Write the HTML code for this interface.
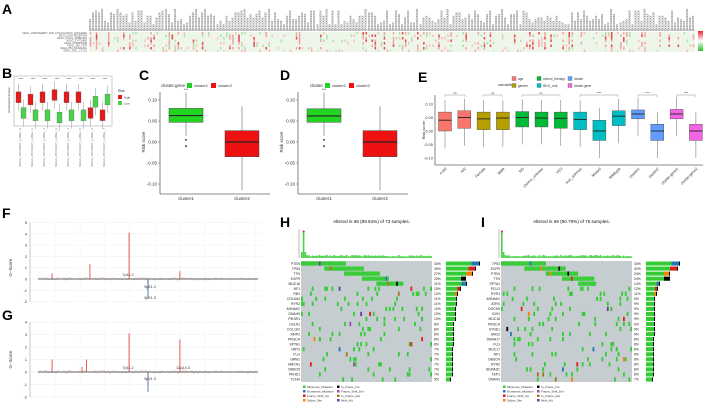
<!DOCTYPE html>
<html><head><meta charset="utf-8">
<style>
html,body{margin:0;padding:0;background:#fff;}
svg{display:block;font-family:"Liberation Sans",sans-serif;}
</style></head>
<body>
<svg id="fig" width="708" height="408" viewBox="0 0 708 408">
<g font-size="14" font-weight="bold" fill="#000">
<text x="2" y="14">A</text>
<text x="2" y="78">B</text>
<text x="139" y="80">C</text>
<text x="280" y="80">D</text>
<text x="418" y="82">E</text>
<text x="2" y="218">F</text>
<text x="2" y="320">G</text>
<text x="280" y="227">H</text>
<text x="481" y="227">I</text>
</g>
</svg>
<script>
// ---------- data ----------
const aRows = ['KEGG_COMPLEMENT_AND_COAGULATION_CASCADES','KEGG_ECM_RECEPTOR','KEGG_FOCAL_ADHESION','KEGG_CYTOKINE','KEGG_CHEMOKINE','KEGG_JAK_STAT','KEGG_P53_SIGNALING','KEGG_CELL_CYCLE'];
const aColumnCount = 200;
const bHigh = [0.55,0.5,0.55,0.6,0.55,0.55,0.2,0.15];
const bLow = [0.2,0.15,0.15,0.1,0.15,0.15,0.45,0.5];
const cCategories = ['cluster1','cluster2'];
const cQ1 = [0.047,-0.035]; const cMed = [0.063,0.0]; const cQ3 = [0.08,0.027];
const cLo = [0.015,-0.115]; const cHi = [0.118,0.085];
const dQ1 = [0.047,-0.035]; const dMed = [0.062,0.0]; const dQ3 = [0.079,0.027];
const dLo = [0.015,-0.115]; const dHi = [0.118,0.085];
const eCategories = ['<=60','>60','Female','Male','NO','chemo_unknow','YES','mut_unknow','Mutant','Wildtype','cluster1','cluster2','cluster.gene1','cluster.gene2'];
const eQ1 = [0.0,0.01,0.005,0.005,0.015,0.015,0.01,0.005,-0.035,0.02,0.045,-0.035,0.045,-0.035];
const eMed = [0.04,0.05,0.045,0.048,0.05,0.048,0.047,0.043,0.0,0.055,0.063,0.0,0.063,0.0];
const eQ3 = [0.07,0.075,0.07,0.07,0.072,0.07,0.07,0.07,0.04,0.075,0.078,0.025,0.08,0.025];
const eColors = ['#F8766D','#F8766D','#B79F00','#B79F00','#00BA38','#00BA38','#00BA38','#00BFC4','#00BFC4','#00BFC4','#619CFF','#619CFF','#F564E3','#F564E3'];
const fTicks = [5,4,3,2,1,0,-1,-2];
const fPeakPos = [0.064,0.236,0.414,0.5,0.5,0.645];
const fPeakVal = [0.5,1.3,4.1,-1.0,-1.7,0.7];
const gTicks = [4,3,2,1,0,-1,-2];
const gPeakPos = [0.064,0.22,0.414,0.5,0.645,0.2];
const gPeakVal = [1.0,1.0,3.1,-1.6,2.6,0.4];
const hGenes = ['PTEN','TP53','TTN','EGFR','MUC16','NF1','RB1','COL6A3','RYR2','AHNAK2','DNAH5','PIK3R1','CALN1','COL1A2','XIRP2','PIK3CA','SPTA1','HRT2','FLG','GRM1','HMCN1','OBSCN','PKHD1','TCHH'];
const hPct = [34,30,27,20,21,15,12,11,11,10,10,10,8,8,8,8,8,7,7,7,7,7,7,5];
const iGenes = ['TP53','EGFR','PTEN','TTN','SPTA1','PCLO','RYR1','AHNAK2','ATRX','DOCK5','IDH1','MUC16','PIK3CA','SYNE1','ANO2','DNAH17','FLG','MUC17','NF1','OBSCN','RYR2','SEMA3C','TEP1','DNAH2'];
const iPct = [34,32,24,24,14,12,11,9,9,9,9,9,9,9,9,8,8,8,8,8,8,8,8,7];

const NS='http://www.w3.org/2000/svg';
const svg=document.getElementById('fig');
function mk(tag,attrs,parent){const e=document.createElementNS(NS,tag);for(const k in attrs)e.setAttribute(k,attrs[k]);(parent||svg).appendChild(e);return e;}
function tx(x,y,s,size,attrs,parent){const e=mk('text',Object.assign({x:x,y:y,'font-size':size,fill:'#333'},attrs||{}),parent);e.textContent=s;return e;}
function hash(a,b){let h=(a*374761393+b*668265263)^0x5bd1e995;h=(h^(h>>>13))*1274126177;return ((h^(h>>>16))>>>0)/4294967296;}

// ---------- A heatmap ----------
const gA=mk('g',{});


const aTop=32,aH=20;
mk('rect',{x:89,y:aTop,width:606,height:aH,fill:'#eef6ea'},gA);
const cw=606/aColumnCount, rh=aH/aRows.length;
for(let c=0;c<aColumnCount;c++){
  const hot=hash(c,99)>0.75;
  for(let r=0;r<aRows.length;r++){
    const v=hash(c,r);
    let col=null;
    if(r===aRows.length-1){ if(v>0.85) col='#f5b5b5'; else if(v<0.1) col='#c5ecc5'; }
    else if(hot&&v>0.4) col=v>0.8?'#e84a4a':'#f4a3a3';
    else if(v>0.95) col='#f6c0c0';
    else if(v<0.05) col='#a8e6a8';
    if(col){const e=mk('rect',{x:89+c*cw+cw*0.25,y:aTop+r*rh,width:cw*0.5,height:rh,fill:col},gA);}
  }
  const ln=3+Math.floor(hash(c,7)*10);
  const lab=tx(89+c*cw+2,31,'g'+'x'.repeat(ln),3.4,{transform:`rotate(-90 ${89+c*cw+2} 31)`,fill:'#555'},gA);
  
  
}
aRows.forEach((r,i)=>{const t=tx(87,aTop+i*rh+2.2,r,2.4,{'text-anchor':'end',fill:'#555'},gA);});
const defs=mk('defs',{});
const lg=mk('linearGradient',{id:'hg',x1:0,y1:0,x2:0,y2:1},defs);
mk('stop',{offset:'0',  'stop-color':'#e3262a'},lg);mk('stop',{offset:'0.5','stop-color':'#ffffff'},lg);mk('stop',{offset:'1','stop-color':'#22c322'},lg);
const lgd=mk('rect',{x:698,y:31,width:5,height:20,fill:'url(#hg)'});



// ---------- B ----------
const gB=mk('g',{});


mk('rect',{x:14,y:76,width:98,height:50,fill:'#fff',stroke:'#999','stroke-width':0.5},gB);
const bY=v=>122-v*45;
for(let i=0;i<bHigh.length;i++){
  const cx=21+i*12;
  [[bHigh[i],'#e41a1c',-2.5],[bLow[i],'#4ad04a',2.5]].forEach(([m,col,off])=>{
    const x=cx+off;
    mk('line',{x1:x,x2:x,y1:bY(m+0.3),y2:bY(m-0.3),stroke:'#777','stroke-width':0.4},gB);
    const b=mk('rect',{x:x-2.5,y:bY(m+0.12),width:5,height:bY(m-0.12)-bY(m+0.12),fill:col,stroke:'#555','stroke-width':0.3},gB);
    
    
  });
  tx(cx,80,'****',3,{'text-anchor':'middle'},gB);
  const lab=tx(cx,128,'KEGG_PATHWAY_LABEL_'+i,3,{transform:`rotate(-90 ${cx} 128)`,'text-anchor':'end',fill:'#777'},gB);
  
  
}
tx(10,100,'Enrichment Scores',3,{transform:'rotate(-90 10 100)','text-anchor':'middle'},gB);
tx(118,92,'Risk',3.5,{},gB);
mk('rect',{x:118,y:95,width:4,height:4,fill:'#e41a1c'},gB);tx(124,98.5,'High',3,{},gB);
mk('rect',{x:118,y:101,width:4,height:4,fill:'#4ad04a'},gB);tx(124,104.5,'Low',3,{},gB);

// ---------- C & D ----------
function clusterPanel(x0,title,q1,med,q3,lo,hi,name){
  const g=mk('g',{});
  
  
  const Y=v=>142-v*420;
  const left=x0, right=x0+110;
  mk('line',{x1:left,x2:left,y1:92,y2:194,stroke:'#666','stroke-width':0.8},g);
  mk('line',{x1:left,x2:right,y1:194,y2:194,stroke:'#666','stroke-width':0.8},g);
  [0.10,0.05,0.00,-0.05,-0.10].forEach(t=>{
    mk('line',{x1:left-2,x2:left,y1:Y(t),y2:Y(t),stroke:'#666','stroke-width':0.5},g);
    tx(left-3,Y(t)+1.5,t.toFixed(2),4.5,{'text-anchor':'end'},g);
  });
  tx(left-15,142,'Risk score',4.5,{transform:`rotate(-90 ${left-15} 142)`,'text-anchor':'middle'},g);
  const cols=['#22d322','#ee1111'];
  cCategories.forEach((c,i)=>{
    const cx=left+26+i*56;
    mk('line',{x1:cx,x2:cx,y1:Y(hi[i]),y2:Y(lo[i]),stroke:'#666','stroke-width':0.6},g);
    const b=mk('rect',{x:cx-17,y:Y(q3[i]),width:34,height:Y(q1[i])-Y(q3[i]),fill:cols[i],stroke:'#444','stroke-width':0.5},g);
    
    
    mk('line',{x1:cx-17,x2:cx+17,y1:Y(med[i]),y2:Y(med[i]),stroke:'#222','stroke-width':1.2},g);
    tx(cx,200,c,4.5,{'text-anchor':'middle'},g);
  });
  mk('circle',{cx:left+26,cy:Y(0.005),r:0.9,fill:'#222'},g);
  mk('circle',{cx:left+26,cy:Y(-0.01),r:0.9,fill:'#222'},g);
  tx(left+26,Y(0.122),'***',4,{'text-anchor':'middle'},g);
  tx(left+25,87,title,4.5,{'text-anchor':'end'},g);
  mk('rect',{x:left+27,y:83,width:5,height:5,fill:cols[0]},g);tx(left+34,87,'cluster1',4,{},g);
  mk('rect',{x:left+51,y:83,width:5,height:5,fill:cols[1]},g);tx(left+58,87,'cluster2',4,{},g);
}
clusterPanel(160,'cluster.gene',cQ1,cMed,cQ3,cLo,cHi,'cluster-gene-boxplot');
clusterPanel(298,'cluster',dQ1,dMed,dQ3,dLo,dHi,'cluster-boxplot');

// ---------- E ----------
const gE=mk('g',{});


const eY=v=>131-v*270;
mk('line',{x1:435,x2:435,y1:95,y2:165,stroke:'#666','stroke-width':0.8},gE);
mk('line',{x1:435,x2:703,y1:165,y2:165,stroke:'#666','stroke-width':0.8},gE);
[0.10,0.05,0.00,-0.05,-0.10].forEach(t=>tx(433,eY(t)+1.5,t.toFixed(2),4,{'text-anchor':'end'},gE));
tx(425,130,'Risk score',4,{transform:'rotate(-90 425 130)','text-anchor':'middle'},gE);
eCategories.forEach((c,i)=>{
  const cx=445+i*19.3;
  mk('line',{x1:cx,x2:cx,y1:eY(eQ3[i]+0.045),y2:eY(Math.max(eQ1[i]-0.065,-0.11)),stroke:'#666','stroke-width':0.5},gE);
  const b=mk('rect',{x:cx-6.5,y:eY(eQ3[i]),width:13,height:eY(eQ1[i])-eY(eQ3[i]),fill:eColors[i],stroke:'#444','stroke-width':0.4},gE);
  
  
  mk('line',{x1:cx-6.5,x2:cx+6.5,y1:eY(eMed[i]),y2:eY(eMed[i]),stroke:'#222','stroke-width':0.9},gE);
  const l=tx(cx+2,169,c,3.8,{transform:`rotate(-45 ${cx+2} 169)`,'text-anchor':'end'},gE);
  
  
});
[[445,465,'ns'],[483,502,'ns'],[522,560,'ns'],[580,618,'****'],[638,657,'****'],[677,695,'****']].forEach(([a,b,s])=>{
  mk('path',{d:`M${a} 97 V95 H${b} V97`,fill:'none',stroke:'#777','stroke-width':0.4},gE);
  tx((a+b)/2,94,s,3,{'text-anchor':'middle'},gE);
});
tx(498,86,'variable',4,{},gE);
const eLeg=[['age','#F8766D',512,80],['gender','#B79F00',512,87],['chemo_therapy','#00BA38',537,80],['IDH1_mut','#00BFC4',537,87],['cluster','#619CFF',568,80],['cluster.gene','#F564E3',568,87]];
eLeg.forEach(([n,c,x,y])=>{mk('rect',{x:x,y:y-3.5,width:4,height:4,fill:c,stroke:'#555','stroke-width':0.3},gE);tx(x+6,y,n,3.2,{},gE);});

// ---------- F & G ----------
function gistic(top,ticks,unit,pos,val,name,labels){
  const g=mk('g',{});
  
  
  const zero=top+ticks[0]*unit;
  const Y=v=>zero-v*unit;
  const x0=38,x1=258;
  for(let k=0;k<10;k++) mk('line',{x1:30+k*25,x2:30+k*25,y1:Y(ticks[0]),y2:Y(ticks[ticks.length-1]),stroke:'#f0f0f0','stroke-width':0.5},g);
  ticks.forEach(t=>{mk('line',{x1:30,x2:262,y1:Y(t),y2:Y(t),stroke:'#eee','stroke-width':0.5},g);tx(27,Y(t)+1.5,String(t),4,{'text-anchor':'end'},g);});
  mk('line',{x1:30,x2:30,y1:Y(ticks[0]),y2:Y(ticks[ticks.length-1]),stroke:'#999','stroke-width':0.5},g);
  tx(12,Y(1),'G−Score',4.5,{transform:`rotate(-90 12 ${Y(1)})`,'text-anchor':'middle'},g);
  for(let k=0;k<110;k++){const x=x0+k*2;const h=(hash(k,name.length)-0.45)*0.35;mk('line',{x1:x,x2:x,y1:zero,y2:Y(h),stroke:h>0?'#e88':'#6688bb','stroke-width':0.5},g);}
  mk('line',{x1:x0,x2:x1,y1:zero,y2:zero,stroke:'#333','stroke-width':0.8},g);
  pos.forEach((p,i)=>{
    const x=x0+p*(x1-x0);
    const l=mk('line',{x1:x,x2:x,y1:zero,y2:Y(val[i]),stroke:val[i]>0?'#e0302a':'#3a5a9a','stroke-width':0.8},g);
    
    
  });
  labels.forEach(([s,x,y])=>tx(x,y,s,3.8,{'text-anchor':'middle'},g));
}
gistic(222.5,fTicks,11.3,fPeakPos,fPeakVal,'amplification-deletion-f',[['7p11.2',128,276],['9p21.2',150,288],['9p21.3',150,299]]);
gistic(322,gTicks,12.5,gPeakPos,gPeakVal,'amplification-deletion-g',[['7p11.2',128,369],['12q14.3',183,369],['9p21.3',150,380]]);

// ---------- H & I oncoplots ----------
const mutCols=['#33cc33','#1f78b4','#e31a1c','#ff7f00','#000000','#984ea3','#a6761d','#6a3d9a'];
function oncoplot(x0,genes,pct,title,name,seed,peakIdx){
  const g=mk('g',{});
  
  
  const w=131,top=261,h=121,n=genes.length,rh=h/n,ns=73,cwid=w/ns;
  tx(x0+w/2+5,223,title,4.6,{'text-anchor':'middle',fill:'#111'},g);
  mk('line',{x1:x0-2,x2:x0-2,y1:229,y2:258,stroke:'#555','stroke-width':0.4},g);
  for(let s=0;s<ns;s++){
    const hv=s===peakIdx?27:(Math.abs(s-peakIdx)<2?6:1.5+hash(s,seed)*1.5);
    const b=mk('rect',{x:x0+s*cwid,y:258-hv,width:cwid*0.9,height:hv,fill:'#4ad04a'},g);
    
    
  }
  mk('circle',{cx:x0+(peakIdx+0.5)*cwid,cy:231.5,r:1,fill:'#e31a1c'},g);
  mk('rect',{x:x0,y:top,width:w,height:h,fill:'#c5cdd0'},g);
  let start=0;
  genes.forEach((gn,i)=>{
    const y=top+i*rh;
    const cnt=Math.round(pct[i]/100*ns);
    for(let k=0;k<cnt;k++){
      const s= i<5 ? (start+k)%ns : Math.floor(hash(i*31+k,seed)*ns);
      const r=hash(k+i*7,seed+3);
      const col= r>0.85 ? mutCols[1+Math.floor(hash(k,i+seed)*7)] : mutCols[0];
      const c=mk('rect',{x:x0+s*cwid,y:y+0.4,width:cwid,height:rh-0.8,fill:col},g);
      
      
    }
    if(i<5) start+=Math.round(cnt*0.5);
    tx(x0-1,y+rh*0.75,gn,3.4,{'text-anchor':'end',fill:'#222'},g);
    tx(x0+w+2,y+rh*0.75,pct[i]+'%',3.4,{fill:'#222'},g);
    const bw=pct[i]*1.0;
    const b=mk('rect',{x:x0+w+14,y:y+0.5,width:bw,height:rh-1,fill:'#33cc33'},g);
    
    
    if(i<7) mk('rect',{x:x0+w+14+bw*0.75,y:y+0.5,width:bw*0.25,height:rh-1,fill:mutCols[1+(i%4)]},g);
    mk('rect',{x:x0+w+14+bw-1,y:y+0.5,width:1,height:rh-1,fill:'#000'},g);
  });
  const legs=['Missense_Mutation','Nonsense_Mutation','Frame_Shift_Ins','Splice_Site','In_Frame_Ins','Frame_Shift_Del','In_Frame_Del','Multi_Hit'];
  legs.forEach((l,i)=>{
    const lx=x0+2+Math.floor(i/4)*34, ly=388+(i%4)*4.5;
    mk('rect',{x:lx,y:ly-2.5,width:2.5,height:2.5,fill:mutCols[i]},g);
    tx(lx+4,ly,l,3,{fill:'#333'},g);
  });
}
oncoplot(301,hGenes,hPct,'Altered in 68 (89.84%) of 73 samples.','oncoplot-h',5,1);
oncoplot(501,iGenes,iPct,'Altered in 69 (90.79%) of 76 samples.','oncoplot-i',11,0);
</script>
</body></html>
